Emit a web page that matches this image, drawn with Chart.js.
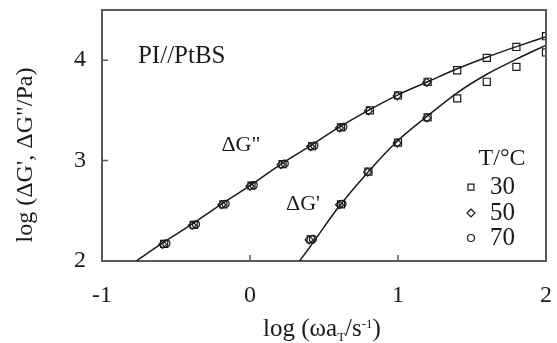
<!DOCTYPE html>
<html>
<head>
<meta charset="utf-8">
<script src="https://cdn.jsdelivr.net/npm/chart.js@4.4.0/dist/chart.umd.min.js"></script>
<style>
  body { margin: 0; background: #fff; }
  #wrap { width: 557px; height: 343px; }
</style>
</head>
<body>
<div id="wrap"><canvas id="chart" width="557" height="343"></canvas></div>
<script>
// axis ticks
const xTicks = [-1, 0, 1, 2];
const yTicks = [2, 3, 4];

// dG'' data (log omega aT, log dG'')
const xG2_30 = [-0.58, -0.38, -0.18, 0.01, 0.22, 0.42, 0.615, 0.81, 1.0, 1.2, 1.4, 1.6, 1.8, 2.0];
const yG2_30 = [2.17, 2.36, 2.565, 2.75, 2.965, 3.145, 3.33, 3.50, 3.65, 3.785, 3.90, 4.023, 4.132, 4.239];
const xG2_50 = [-0.59, -0.39, -0.19, 0.0, 0.21, 0.41, 0.605, 0.80, 0.995, 1.195];
const yG2_50 = [2.165, 2.355, 2.56, 2.745, 2.96, 3.14, 3.325, 3.495, 3.645, 3.78];
const xG2_70 = [-0.565, -0.365, -0.165, 0.025, 0.235, 0.435, 0.63];
const yG2_70 = [2.175, 2.365, 2.57, 2.755, 2.97, 3.15, 3.335];

// dG' data
const xG1_30 = [0.41, 0.615, 0.80, 1.0, 1.2, 1.4, 1.6, 1.8, 2.0];
const yG1_30 = [2.215, 2.565, 2.89, 3.18, 3.43, 3.62, 3.785, 3.933, 4.077];
const xG1_50 = [0.40, 0.605, 0.795, 0.995, 1.195];
const yG1_50 = [2.21, 2.56, 2.885, 3.175, 3.425];
const xG1_70 = [0.425, 0.625];
const yG1_70 = [2.22, 2.57];

// fitted curves
const xLineG2 = [-0.77, -0.6, -0.4, -0.2, 0.0, 0.2, 0.4, 0.6, 0.8, 1.0, 1.2, 1.4, 1.6, 1.8, 2.0];
const yLineG2 = [2.0, 2.17, 2.36, 2.56, 2.75, 2.955, 3.14, 3.33, 3.50, 3.655, 3.785, 3.915, 4.03, 4.135, 4.235];
const xLineG1 = [0.335, 0.4, 0.6, 0.8, 1.0, 1.2, 1.4, 1.6, 1.8, 2.0];
const yLineG1 = [2.0, 2.13, 2.54, 2.89, 3.2, 3.445, 3.675, 3.86, 4.01, 4.15];

const tempLabels = ['30', '50', '70'];

function pts(xs, ys) {
    return xs.map((x, i) => ({ x: x, y: ys[i] }));
}

const serif = '"Liberation Serif", "Times New Roman", serif';
const ink = '#1a1a1a';
const axisGray = '#5a5a5a';

function markerSet(label, xs, ys, style, r) {
    return {
        label: label,
        data: pts(xs, ys),
        showLine: false,
        pointStyle: style,
        pointRadius: r,
        pointBorderWidth: 1.2,
        pointBorderColor: ink,
        pointBackgroundColor: 'rgba(0,0,0,0)'
    };
}

function curveSet(label, xs, ys) {
    return {
        label: label,
        data: pts(xs, ys),
        showLine: true,
        borderColor: ink,
        borderWidth: 1.5,
        pointRadius: 0,
        cubicInterpolationMode: 'monotone',
        fill: false
    };
}

function drawMarker(ctx, style, x, y) {
    ctx.beginPath();
    if (style === 'rect') {
        ctx.rect(x - 3, y - 3, 6, 6);
    } else if (style === 'rectRot') {
        ctx.moveTo(x, y - 4); ctx.lineTo(x + 4, y); ctx.lineTo(x, y + 4); ctx.lineTo(x - 4, y); ctx.closePath();
    } else {
        ctx.arc(x, y, 3.5, 0, Math.PI * 2);
    }
    ctx.stroke();
}

const decor = {
    id: 'decor',
    afterDraw(chart) {
        const ctx = chart.ctx;
        const a = chart.chartArea;
        const xs = chart.scales.x;
        const ys = chart.scales.y;
        ctx.save();

        // top and right frame
        ctx.strokeStyle = axisGray;
        ctx.lineWidth = 2;
        ctx.beginPath();
        ctx.moveTo(a.left - 1, a.top);
        ctx.lineTo(a.right, a.top);
        ctx.lineTo(a.right, a.bottom + 1);
        ctx.stroke();

        // inward tick marks
        ctx.lineWidth = 1.5;
        ctx.beginPath();
        xTicks.slice(1, -1).forEach(v => {
            const px = xs.getPixelForValue(v);
            ctx.moveTo(px, a.bottom);
            ctx.lineTo(px, a.bottom - 6);
        });
        yTicks.slice(1).forEach(v => {
            const py = ys.getPixelForValue(v);
            ctx.moveTo(a.left, py);
            ctx.lineTo(a.left + 6, py);
        });
        ctx.stroke();

        ctx.fillStyle = ink;
        ctx.textBaseline = 'middle';

        // annotations
        ctx.font = '25px ' + serif;
        ctx.textAlign = 'left';
        ctx.fillText('PI//PtBS', xs.getPixelForValue(-0.757), ys.getPixelForValue(4.04));
        ctx.font = '22px ' + serif;
        ctx.textAlign = 'center';
        ctx.fillText('\u0394G"', xs.getPixelForValue(-0.061), ys.getPixelForValue(3.154));
        ctx.fillText('\u0394G\'', xs.getPixelForValue(0.358), ys.getPixelForValue(2.567));

        // legend
        ctx.font = '24px ' + serif;
        ctx.fillText('T/\u00b0C', xs.getPixelForValue(1.703), ys.getPixelForValue(3.015));
        const styles = ['rect', 'rectRot', 'circle'];
        const legY = [2.736, 2.478, 2.229];
        ctx.lineWidth = 1.2;
        ctx.strokeStyle = ink;
        ctx.textAlign = 'left';
        ctx.font = '25px ' + serif;
        tempLabels.forEach((t, i) => {
            const py = ys.getPixelForValue(legY[i]);
            drawMarker(ctx, styles[i], xs.getPixelForValue(1.493), py);
            ctx.fillText(t, xs.getPixelForValue(1.622), py);
        });

        // y axis title
        ctx.save();
        ctx.translate(26, 155);
        ctx.rotate(-Math.PI / 2);
        ctx.textAlign = 'center';
        ctx.font = '24px ' + serif;
        ctx.fillText('log (\u0394G\', \u0394G"/Pa)', 0, 0);
        ctx.restore();

        // x axis title with subscript / superscript
        const big = '25px ' + serif;
        const small = '13px ' + serif;
        const parts = [
            { t: 'log (\u03c9a', f: big, dy: 0 },
            { t: 'T', f: small, dy: 5 },
            { t: '/s', f: big, dy: 0 },
            { t: '-1', f: small, dy: -8 },
            { t: ')', f: big, dy: 0 }
        ];
        let total = 0;
        parts.forEach(p => { ctx.font = p.f; p.w = ctx.measureText(p.t).width; total += p.w; });
        let cx = 322 - total / 2;
        const ty = 328;
        ctx.textAlign = 'left';
        ctx.textBaseline = 'alphabetic';
        parts.forEach(p => {
            ctx.font = p.f;
            ctx.fillText(p.t, cx, ty + 8 + p.dy);
            cx += p.w;
        });
        ctx.restore();
    }
};

new Chart(document.getElementById('chart').getContext('2d'), {
    type: 'scatter',
    data: {
        datasets: [
            markerSet('30 G\'\'', xG2_30, yG2_30, 'rect', 5),
            markerSet('50 G\'\'', xG2_50, yG2_50, 'rectRot', 4),
            markerSet('70 G\'\'', xG2_70, yG2_70, 'circle', 3.5),
            markerSet('30 G\'', xG1_30, yG1_30, 'rect', 5),
            markerSet('50 G\'', xG1_50, yG1_50, 'rectRot', 4),
            markerSet('70 G\'', xG1_70, yG1_70, 'circle', 3.5),
            curveSet('fit G\'\'', xLineG2, yLineG2),
            curveSet('fit G\'', xLineG1, yLineG1)
        ]
    },
    options: {
        responsive: false,
        animation: false,
        layout: { padding: { left: 0, top: 10, right: 11, bottom: 0 } },
        plugins: {
            legend: { display: false },
            tooltip: { enabled: false }
        },
        scales: {
            x: {
                type: 'linear',
                min: -1,
                max: 2,
                afterBuildTicks: s => { s.ticks = xTicks.map(v => ({ value: v })); },
                afterFit: s => { s.height = 82; s.paddingLeft = 0; s.paddingRight = 0; },
                grid: { display: false, drawTicks: false },
                border: { display: true, color: axisGray, width: 2 },
                ticks: {
                    color: ink,
                    padding: 20,
                    maxRotation: 0,
                    font: { family: serif, size: 24 },
                    callback: v => String(v)
                }
            },
            y: {
                type: 'linear',
                min: 2,
                max: 4.5,
                afterBuildTicks: s => { s.ticks = yTicks.map(v => ({ value: v })); },
                afterFit: s => { s.width = 102; s.paddingTop = 0; s.paddingBottom = 0; },
                grid: { display: false, drawTicks: false },
                border: { display: true, color: axisGray, width: 2 },
                ticks: {
                    color: ink,
                    padding: 16,
                    font: { family: serif, size: 24 },
                    callback: v => String(v)
                }
            }
        }
    },
    plugins: [decor]
});
</script>
</body>
</html>
